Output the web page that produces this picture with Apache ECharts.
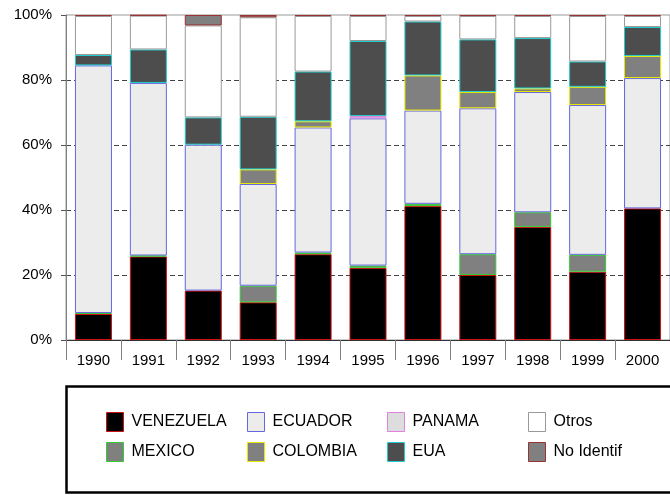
<!DOCTYPE html>
<html>
<head>
<meta charset="utf-8">
<script src="https://cdn.jsdelivr.net/npm/echarts@6/dist/echarts.min.js"></script>
<style>html,body{margin:0;padding:0;background:#fff}#c{width:670px;height:495px}</style>
</head>
<body>
<div id="c"></div>
<script>
var years = ['1990','1991','1992','1993','1994','1995','1996','1997','1998','1999','2000'];
var venezuela = [8, 25.7, 15.2, 11.6, 26.4, 22.2, 41.2, 20, 34.8, 21, 40.5];
var mexico    = [0.3, 0.3, 0, 5.1, 0.5, 0.7, 0.7, 6.4, 4.5, 5.2, 0];
var ecuador   = [76.2, 53.1, 44.9, 31.3, 38.5, 45.3, 28.7, 44.9, 37, 46.1, 40.1];
var colombia  = [0, 0, 0, 4.5, 1.9, 0, 10.8, 5, 1.1, 5.6, 6.8];
var panama    = [0, 0, 0, 0, 0, 0.7, 0, 0, 0, 0, 0];
var eua       = [3.2, 10.3, 8.4, 16.2, 15.3, 23.1, 16.6, 16.2, 15.5, 7.8, 8.9];
var otros     = [12, 10.4, 28.3, 30.6, 17.1, 7.7, 1.7, 7.2, 6.8, 14, 3.4];
var noIdentif = [0.3, 0.2, 3.2, 0.7, 0.3, 0.3, 0.3, 0.3, 0.3, 0.3, 0.3];
var yTicks = [0, 20, 40, 60, 80, 100];

var seriesDefs = [
  {name:'VENEZUELA', data:venezuela, color:'#000000', border:'#cc1111'},
  {name:'MEXICO', data:mexico, color:'#808080', border:'#33cc33'},
  {name:'ECUADOR', data:ecuador, color:'#ececec', border:'#6666dd'},
  {name:'COLOMBIA', data:colombia, color:'#808080', border:'#e8e800'},
  {name:'PANAMA', data:panama, color:'#dddddd', border:'#e080e0'},
  {name:'EUA', data:eua, color:'#4d4d4d', border:'#22cccc'},
  {name:'Otros', data:otros, color:'#ffffff', border:'#999999'},
  {name:'No Identif', data:noIdentif, color:'#808080', border:'#993333'}
];

var FONT = '"Liberation Sans", Arial, sans-serif';

var series = seriesDefs.map(function(s){
  return {
    name: s.name,
    type: 'bar',
    stack: 'total',
    barWidth: 37,
    data: s.data.map(function(v){ return v === 0 ? '-' : v; }),
    itemStyle: {color: s.color, borderColor: s.border, borderWidth: 1},
    emphasis: {disabled: true},
    animation: false
  };
});

var legendCols = [['VENEZUELA','MEXICO'],['ECUADOR','COLOMBIA'],['PANAMA','EUA'],['Otros','No Identif']];
var legendLeft = [106, 247, 387, 528];
var legends = legendCols.map(function(col, i){
  return {
    data: col,
    orient: 'vertical',
    left: legendLeft[i],
    top: 412,
    padding: 0,
    itemWidth: 17,
    itemHeight: 19,
    itemGap: 10,
    icon: 'rect',
    selectedMode: false,
    itemStyle: {borderWidth: 1},
    textStyle: {fontFamily: FONT, fontSize: 16, color: '#000', padding: [0,0,0,3]}
  };
});

var chart = echarts.init(document.getElementById('c'), null, {renderer: 'canvas'});
chart.setOption({
  animation: false,
  backgroundColor: '#ffffff',
  grid: {left: 66, top: 15, width: 613.4, height: 325, show: true, borderColor: '#999999', borderWidth: 1, backgroundColor: 'transparent'},
  xAxis: {
    type: 'category',
    data: years,
    axisLine: {lineStyle: {color: '#333333', width: 1}},
    axisTick: {show: true, length: 20, interval: 0, lineStyle: {color: '#808080'}},
    axisLabel: {interval: 0, margin: 13, fontFamily: FONT, fontSize: 15, color: '#000'}
  },
  yAxis: {
    type: 'value',
    min: yTicks[0],
    max: yTicks[yTicks.length - 1],
    interval: 20,
    axisLine: {show: true, lineStyle: {color: '#808080'}},
    axisTick: {show: true, length: 5, lineStyle: {color: '#555555'}},
    axisLabel: {formatter: '{value}%', margin: 14, fontFamily: FONT, fontSize: 15, color: '#000'},
    splitLine: {show: true, showMinLine: false, showMaxLine: false, lineStyle: {color: '#444444', type: [5, 3], width: 1}}
  },
  legend: legends,
  graphic: [{
    type: 'rect',
    z: 0,
    shape: {x: 66.5, y: 386.5, width: 700, height: 106},
    style: {fill: '#ffffff', stroke: '#000000', lineWidth: 2.5}
  }],
  series: series
});
</script>
</body>
</html>
